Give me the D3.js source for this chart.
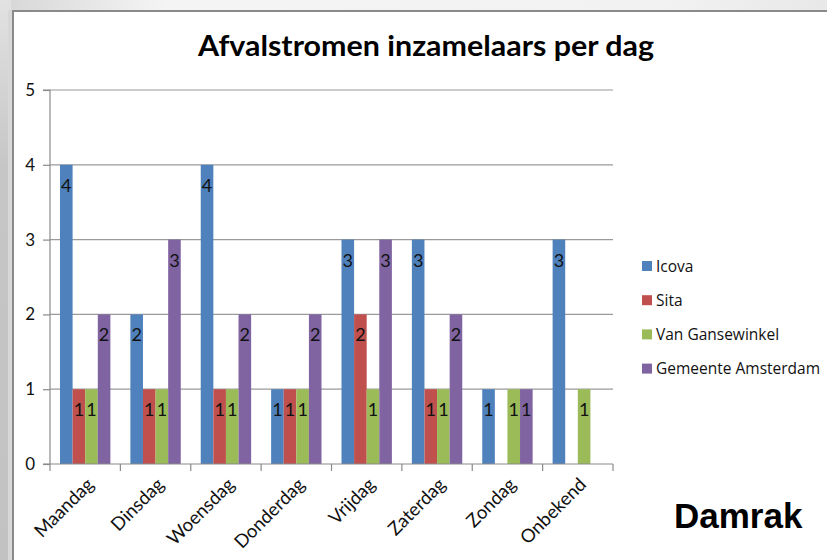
<!DOCTYPE html>
<html><head><meta charset="utf-8">
<script src="https://cdn.jsdelivr.net/npm/d3@7"></script>
<style>body{margin:0;overflow:hidden;background:#fff}</style>
</head><body>
<svg id="c" width="827" height="560"></svg>
<script>
const days = ["Maandag","Dinsdag","Woensdag","Donderdag","Vrijdag","Zaterdag","Zondag","Onbekend"];
const seriesNames = ["Icova","Sita","Van Gansewinkel","Gemeente Amsterdam"];
const icova = [4,2,4,1,3,3,1,3];
const sita = [1,1,1,1,2,1,0,0];
const vanGansewinkel = [1,1,1,1,1,1,1,1];
const gemeenteAmsterdam = [2,3,2,2,3,2,1,0];
const yTicks = [0,1,2,3,4,5];
const colors = ["#4F81BD","#C0504D","#9BBB59","#8064A2"];
const title = "Afvalstromen inzamelaars per dag";
const seriesValues = [icova, sita, vanGansewinkel, gemeenteAmsterdam];

const svg = d3.select("#c");
const defs = svg.append("defs");
const g1 = defs.append("linearGradient").attr("id","bgtop").attr("x1","0").attr("x2","1").attr("y1","0").attr("y2","0");
g1.append("stop").attr("offset","0").attr("stop-color","#d6d6d6");
g1.append("stop").attr("offset","0.2").attr("stop-color","#f4f4f4");
g1.append("stop").attr("offset","0.8").attr("stop-color","#f2f2f2");
g1.append("stop").attr("offset","1").attr("stop-color","#e8e8e8");
const g2 = defs.append("linearGradient").attr("id","bgleft").attr("x1","0").attr("x2","0").attr("y1","0").attr("y2","1");
g2.append("stop").attr("offset","0").attr("stop-color","#e2e2e2");
g2.append("stop").attr("offset","0.3").attr("stop-color","#c6c6c6");
g2.append("stop").attr("offset","1").attr("stop-color","#c2c2c2");

svg.append("rect").attr("width",827).attr("height",560).attr("fill","url(#bgtop)");
svg.append("rect").attr("width",11).attr("height",560).attr("fill","url(#bgleft)");
svg.append("rect").attr("x",8).attr("y",10).attr("width",3).attr("height",550).attr("fill","#d8d8d8");
// chart area
svg.append("rect").attr("x",13).attr("y",11).attr("width",830).attr("height",560)
  .attr("fill","#fff").attr("stroke","#8a8a8a").attr("stroke-width",2);

const pLeft = 50, pRight = 613, pTop = 90, pBottom = 464;
const x0 = d3.scaleBand().domain(days).range([pLeft,pRight]).paddingInner(0).paddingOuter(0);
const gap = x0.bandwidth()*0.142;
const x1 = d3.scaleBand().domain(seriesNames).range([gap, x0.bandwidth()-gap]);
const y = d3.scaleLinear().domain([0,5]).range([pBottom, pTop]);

// gridlines
svg.append("g").selectAll("line").data(yTicks.slice(1)).join("line")
  .attr("x1",pLeft).attr("x2",pRight).attr("y1",d=>y(d)).attr("y2",d=>y(d))
  .attr("stroke","#9a9a9a").attr("stroke-width",1.2);

// bars
const data = [];
days.forEach((d,i)=>seriesNames.forEach((s,j)=>data.push({day:d,series:s,j,v:seriesValues[j][i]})));
const bars = svg.append("g");
bars.selectAll("rect").data(data.filter(d=>d.v>0)).join("rect")
  .attr("x",d=>x0(d.day)+x1(d.series)).attr("width",x1.bandwidth())
  .attr("y",d=>y(d.v)).attr("height",d=>y(0)-y(d.v))
  .attr("fill",d=>colors[d.j]);
bars.selectAll("text").data(data.filter(d=>d.v>0)).join("text")
  .attr("x",d=>x0(d.day)+x1(d.series)+x1.bandwidth()/2)
  .attr("y",d=>y(d.v)+27)
  .attr("text-anchor","middle")
  .attr("font-family","Lato, 'Open Sans', sans-serif").attr("font-size",18)
  .attr("fill","#111").text(d=>d.v);

// y axis
const yAxis = d3.axisLeft(y).tickValues(yTicks).tickSize(7).tickFormat(d3.format("d"));
const ya = svg.append("g").attr("transform",`translate(${pLeft},0)`).call(yAxis);
ya.select(".domain").attr("stroke","#8a8a8a").attr("stroke-width",1.2).attr("d",`M-7,${pTop}H0V${pBottom}`);
ya.selectAll(".tick line").attr("stroke","#8a8a8a").attr("stroke-width",1.2);
ya.selectAll(".tick text").attr("font-family","Lato, sans-serif").attr("font-size",17).attr("fill","#111").attr("x",-15);

// x axis
const xa = svg.append("g").attr("transform",`translate(0,${pBottom})`);
xa.append("line").attr("x1",pLeft-7).attr("x2",pRight).attr("y1",0).attr("y2",0).attr("stroke","#8a8a8a").attr("stroke-width",1.2);
const bounds = days.map(d=>x0(d)).concat([pRight]);
xa.selectAll("line.t").data(bounds).join("line").attr("class","t")
  .attr("x1",d=>d).attr("x2",d=>d).attr("y1",0).attr("y2",7).attr("stroke","#8a8a8a").attr("stroke-width",1.2);
xa.selectAll("text").data(days).join("text")
  .attr("transform",d=>`translate(${x0(d)+x0.bandwidth()/2+5},${17}) rotate(-45)`)
  .attr("text-anchor","end").attr("dy","0.35em")
  .attr("font-family","Lato, sans-serif").attr("font-size",18.5).attr("fill","#111").text(d=>d);

// title
svg.append("text").attr("x",426).attr("y",56).attr("text-anchor","middle")
  .attr("font-family","Lato, sans-serif").attr("font-weight","bold").attr("font-size",28)
  .attr("textLength",456).attr("lengthAdjust","spacingAndGlyphs")
  .attr("fill","#000").text(title);

// legend
const lg = svg.append("g").attr("transform","translate(642,266)");
const items = lg.selectAll("g").data(seriesNames).join("g").attr("transform",(d,i)=>`translate(0,${i*34.2})`);
items.append("rect").attr("x",0).attr("y",-5).attr("width",10).attr("height",10).attr("fill",(d,i)=>colors[i]);
items.append("text").attr("x",14).attr("y",0).attr("dy","0.36em")
  .attr("font-family","'Open Sans', sans-serif").attr("font-size",15.5).attr("fill","#111").text(d=>d);

// Damrak
svg.append("text").attr("x",674).attr("y",528)
  .attr("font-family","'Liberation Sans', Arial, sans-serif").attr("font-weight","bold").attr("font-size",35)
  .attr("fill","#000").text("Damrak");
</script>
</body></html>
